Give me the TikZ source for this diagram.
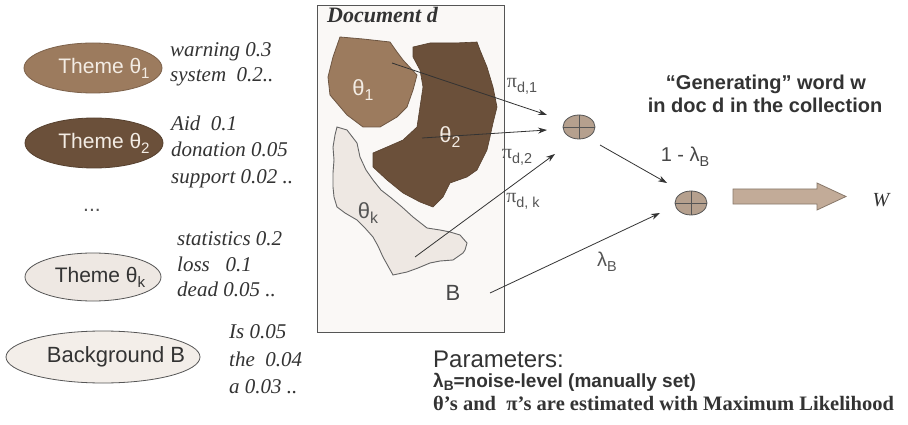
\documentclass[tikz,border=0pt]{standalone}
\usepackage{fontspec}
\setmainfont{Liberation Sans}
\newfontfamily\serif{Liberation Serif}
\usepackage{graphicx}
\usetikzlibrary{arrows.meta,shapes.geometric}
\definecolor{thone}{HTML}{9C7B5E}
\definecolor{thtwo}{HTML}{6B503A}
\definecolor{thk}{HTML}{EEE8E3}
\definecolor{bgell}{HTML}{F3EEE9}
\definecolor{docfill}{HTML}{FAF8F6}
\definecolor{plusfill}{HTML}{B5A08E}
\definecolor{bigarr}{HTML}{C2AB98}
\definecolor{txt}{HTML}{333333}
\definecolor{lbl}{HTML}{555555}
\definecolor{lighttxt}{HTML}{F3ECE4}
\newcommand\lsub[1]{\raisebox{-0.45ex}{\scalebox{0.72}{#1}}}
\newcommand\ssub[1]{\raisebox{-0.3ex}{\scalebox{0.72}{#1}}}
\tikzset{
  themeell/.style={ellipse, draw=#1, line width=0.8pt, inner sep=0pt},
  wordtxt/.style={anchor=base west, inner sep=0pt, text=txt, font=\fontsize{21}{24}\selectfont\serif\itshape},
  sanslbl/.style={inner sep=0pt, text=lbl, font=\fontsize{20}{22}\selectfont},
  conn/.style={draw=txt, line width=0.8pt, -{Stealth[length=9pt,width=6pt]}},
  plusnode/.style={ellipse, draw=lbl, fill=plusfill, line width=0.8pt, minimum width=32pt, minimum height=24pt, inner sep=0pt},
}
\begin{document}
\begin{tikzpicture}[x=1pt,y=-1pt]
\useasboundingbox (0,0) rectangle (908,425);
\fill[white] (0,0) rectangle (908,425);

% ---- left: theme ellipses ----
\node[themeell=thone!80!black, fill=thone, minimum width=138pt, minimum height=50pt] (e1) at (93,68) {};
\node[text=lighttxt, font=\fontsize{21}{24}\selectfont, inner sep=0pt] (e1t) at (104,68) {Theme θ\lsub{1}};
\node[themeell=thtwo!80!black, fill=thtwo, minimum width=138pt, minimum height=50pt] (e2) at (94,143) {};
\node[text=lighttxt, font=\fontsize{21}{24}\selectfont, inner sep=0pt] (e2t) at (104,143) {Theme θ\lsub{2}};
\node[text=lbl, font=\fontsize{21}{24}\selectfont, inner sep=0pt] (dots) at (92,210) {...};
\node[themeell=lbl, fill=thk, minimum width=136pt, minimum height=48pt] (ek) at (93,277) {};
\node[text=txt, font=\fontsize{21}{24}\selectfont, inner sep=0pt] (ekt) at (100,277) {Theme θ\lsub{k}};
\node[themeell=lbl, fill=bgell, minimum width=194pt, minimum height=52pt] (eb) at (103,357) {};
\node[text=txt, font=\fontsize{22}{24}\selectfont, inner sep=0pt] (ebt) at (116,357) {Background B};

% word lists
\node[wordtxt] (w11) at (170,57) {warning 0.3};
\node[wordtxt] (w12) at (170,82) {system\ \ 0.2..};
\node[wordtxt] (w21) at (171,131) {Aid\ \ 0.1};
\node[wordtxt] (w22) at (171,157) {donation 0.05};
\node[wordtxt] (w23) at (171,183) {support 0.02 ..};
\node[wordtxt] (wk1) at (177,245) {statistics 0.2};
\node[wordtxt] (wk2) at (177,271) {loss\ \ \ 0.1};
\node[wordtxt] (wk3) at (177,296) {dead 0.05 ..};
\node[wordtxt] (wb1) at (229,338) {Is 0.05};
\node[wordtxt] (wb2) at (229,366) {the\ \ 0.04};
\node[wordtxt] (wb3) at (229,393) {a 0.03 ..};

% ---- document box ----
\node[draw=lbl, fill=docfill, line width=0.8pt, minimum width=187pt, minimum height=327pt, inner sep=0pt] (doc) at (410.5,168.5) {};
\node[anchor=base west, inner sep=0pt, text=txt, font=\fontsize{22}{24}\selectfont\serif\bfseries\itshape] (doct) at (327,23) {Document d};

% theta_k blob
\draw[fill=thk, draw=lbl!90, line width=0.9pt]
  (337,127) -- (347,130) -- (357,143) -- (360,157) -- (366,170) -- (373,180) -- (381,190) -- (390,197)
  -- (402,207) -- (413,217) -- (427,228) -- (440,230) -- (450,232) -- (460,235) -- (467,243) -- (465,250)
  -- (463,253) -- (453,260) -- (440,261) -- (430,263) -- (418,268) -- (407,272) -- (393,275) -- (388,266)
  -- (383,257) -- (378,246) -- (373,237) -- (365,228) -- (357,220) -- (345,213) -- (337,207) -- (334,197)
  -- (333,187) -- (333,173) -- (334,160) -- (333,147) -- (335,135) -- cycle;
% theta_1 blob
\draw[fill=thone, draw=thone!70!black, line width=0.8pt]
  (340,37) -- (363,39) -- (390,42) -- (397,52) -- (403,60) -- (417,75) -- (413,90) -- (407,107)
  -- (397,117) -- (380,127) -- (363,127) -- (347,115) -- (330,95) -- (328,77) -- (333,57) -- cycle;
% theta_2 blob
\draw[fill=thtwo, draw=thtwo!80!black, line width=0.6pt]
  (413,47) -- (430,43) -- (455,43) -- (477,42) -- (480,50) -- (487,67) -- (493,87) -- (497,107)
  -- (493,123) -- (490,137) -- (487,150) -- (477,170) -- (467,177) -- (450,183) -- (443,197)
  -- (433,207) -- (420,202) -- (403,193) -- (387,180) -- (373,167) -- (373,153) -- (387,147)
  -- (403,140) -- (417,127) -- (420,107) -- (423,87) -- (420,70) -- (413,57) -- cycle;

\node[text=lighttxt, font=\fontsize{22}{24}\selectfont, inner sep=0pt] (b1) at (363,90) {θ\lsub{1}};
\node[text=lighttxt, font=\fontsize{22}{24}\selectfont, inner sep=0pt] (b2) at (450,137) {θ\lsub{2}};
\node[text=lbl, font=\fontsize{22}{24}\selectfont, inner sep=0pt] (bk) at (368,213) {θ\lsub{k}};
\node[text=txt!90, font=\fontsize{22}{24}\selectfont, inner sep=0pt] (bB) at (453,293) {B};

% ---- plus nodes ----
\node[plusnode] (p1) at (579,127) {};
\draw[lbl, line width=0.8pt] (p1.north) -- (p1.south) (p1.west) -- (p1.east);
\node[plusnode] (p2) at (691,203) {};
\draw[lbl, line width=0.8pt] (p2.north) -- (p2.south) (p2.west) -- (p2.east);

% ---- connectors ----
\coordinate (s1) at (392,63);
\coordinate (t1) at (547,115);
\coordinate (s2) at (422,138);
\coordinate (t2) at (547,130);
\coordinate (sk) at (415,257);
\coordinate (tk) at (555,154);
\coordinate (sB) at (490,293);
\coordinate (tB) at (660,213);
\coordinate (q1) at (600,145);
\coordinate (q2) at (667,183);
\draw[conn] (s1) -- (t1);
\draw[conn] (s2) -- (t2);
\draw[conn] (sk) -- (tk);
\draw[conn] (sB) -- (tB);
\draw[conn] (q1) -- (q2);

% labels
\node[sanslbl] (l1) at (522,86) {{\serif π}\lsub{d,1}};
\node[sanslbl] (l2) at (517,157) {{\serif π}\lsub{d,2}};
\node[sanslbl] (lk) at (523,201) {{\serif π}\lsub{d, k}};
\node[sanslbl] (lB) at (607,262) {λ\lsub{B}};
\node[sanslbl, text=txt!90] (l12) at (685,157) {1 - λ\lsub{B}};

% ---- big arrow ----
\draw[fill=bigarr, draw=bigarr!70!black, line width=0.8pt]
  (733,189) -- (817,189) -- (817,183) -- (846,196.5) -- (817,210) -- (817,204) -- (733,204) -- cycle;
\node[inner sep=0pt, text=txt, font=\fontsize{20}{22}\selectfont\serif\itshape] (W) at (881,200) {W};

% ---- generating text ----
\node[anchor=base, inner sep=0pt, text=txt, font=\fontsize{20}{23}\selectfont\bfseries] (g1) at (766,90) {“Generating” word w};
\node[anchor=base, inner sep=0pt, text=txt, font=\fontsize{20}{23}\selectfont\bfseries] (g2) at (765,113) {in doc d in the collection};

% ---- parameters ----
\node[anchor=base west, inner sep=0pt, text=txt, font=\fontsize{24}{26}\selectfont] (par) at (433,367) {Parameters:};
\node[anchor=base west, inner sep=0pt, text=txt, font=\fontsize{19}{22}\selectfont\bfseries] (par2) at (433,387) {λ\ssub{B}=noise-level (manually set)};
\node[anchor=base west, inner sep=0pt, text=txt, font=\fontsize{20.5}{22}\selectfont\serif\bfseries] (par3) at (433,410) {θ’s and\ \ π’s are estimated with Maximum Likelihood};
\end{tikzpicture}
\end{document}
